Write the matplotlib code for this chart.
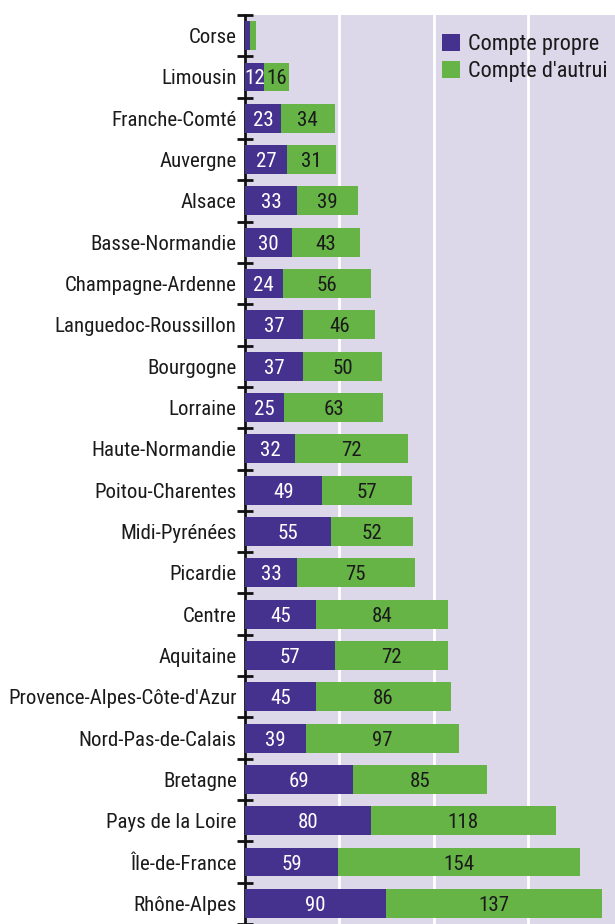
import matplotlib
matplotlib.use("Agg")
import matplotlib.pyplot as plt
from matplotlib import font_manager as fm
import numpy as np
import os

regions = ["Corse", "Limousin", "Franche-Comté", "Auvergne", "Alsace", "Basse-Normandie",
           "Champagne-Ardenne", "Languedoc-Roussillon", "Bourgogne", "Lorraine",
           "Haute-Normandie", "Poitou-Charentes", "Midi-Pyrénées", "Picardie", "Centre",
           "Aquitaine", "Provence-Alpes-Côte-d'Azur", "Nord-Pas-de-Calais", "Bretagne",
           "Pays de la Loire", "Île-de-France", "Rhône-Alpes"]
compte_propre = [3, 12, 23, 27, 33, 30, 24, 37, 37, 25, 32, 49, 55, 33, 45, 57, 45, 39, 69, 80, 59, 90]
compte_autrui = [4, 16, 34, 31, 39, 43, 56, 46, 50, 63, 72, 57, 52, 75, 84, 72, 86, 97, 85, 118, 154, 137]
show_labels = [False] + [True] * 21


def find_condensed():
    files = list(fm.findSystemFonts()) + [f.fname for f in fm.fontManager.ttflist]
    prefs = ["robotocondensed-regular", "liberationsansnarrow-regular",
             "dejavusanscondensed.", "opensans-condensed-regular", "opensanscondensed-regular",
             "notosans-condensed.", "notosanscondensed-regular"]
    low = [(os.path.basename(f).lower().replace(" ", "").replace("_", "-"), f) for f in files]
    for p in prefs:
        for b, f in low:
            if b.startswith(p):
                return f
    bad = ["bold", "italic", "light", "semi", "extra", "thin", "black", "medium", "oblique"]
    for b, f in low:
        if ("condensed" in b or "narrow" in b) and not any(w in b for w in bad):
            return f
    return None


cf = find_condensed()
if cf:
    fp = fm.FontProperties(fname=cf, size=15)
    fpl = fm.FontProperties(fname=cf, size=16)
else:
    fp = fm.FontProperties(family="DejaVu Sans", size=13)
    fpl = fm.FontProperties(family="DejaVu Sans", size=13)

purple = "#45328F"
green = "#66B446"
bg = "#DCD8EA"
txt = "#1a1a1a"

top_px = 15
fig = plt.figure(figsize=(6.15, 9.24), dpi=100)
ax = fig.add_axes([245/615, 0, 1 - 245/615, 1 - top_px/924])
ax.set_facecolor(bg)

y = np.arange(len(regions))
h = 0.7
ax.barh(y, compte_propre, height=h, color=purple, label="Compte propre", zorder=3)
ax.barh(y, compte_autrui, left=compte_propre, height=h, color=green, label="Compte d'autrui", zorder=3)

for i in range(len(regions)):
    if not show_labels[i]:
        continue
    p, a = compte_propre[i], compte_autrui[i]
    ax.text(p / 2, i, str(p), ha="center", va="center_baseline", color="white", fontproperties=fp, zorder=4)
    ax.text(p + a / 2, i, str(a), ha="center", va="center_baseline", color=txt, fontproperties=fp, zorder=4)

n = len(regions)
pitch_px = 41.57
bottom = -0.5 + (924 - top_px) / pitch_px
ax.set_ylim(bottom, -0.5)
ax.set_xlim(0, 235.5)

ax.set_xticks([60, 120, 180])
ax.xaxis.grid(True, color="white", linewidth=2, zorder=1)
ax.tick_params(axis="x", length=0, labelbottom=False)

ax.set_yticks(y)
ax.set_yticklabels(regions, color=txt)
for lab in ax.get_yticklabels():
    lab.set_fontproperties(fp)
ax.tick_params(axis="y", which="major", length=0, pad=6)
ax.set_yticks(np.arange(-0.5, n, 1), minor=True)
ax.tick_params(axis="y", which="minor", length=12, width=2, direction="inout", color="#111111")

for s in ["top", "right", "bottom"]:
    ax.spines[s].set_visible(False)
ax.spines["left"].set_linewidth(2)
ax.spines["left"].set_color("#111111")

leg = ax.legend(loc="upper right", bbox_to_anchor=(1.0, 1 - 11/909), frameon=False, prop=fpl,
                handlelength=0.8, handleheight=0.8, handletextpad=0.35, labelspacing=0.25,
                borderaxespad=0.05, borderpad=0.3, labelcolor=txt)

fig.savefig("out.png", dpi=100)
